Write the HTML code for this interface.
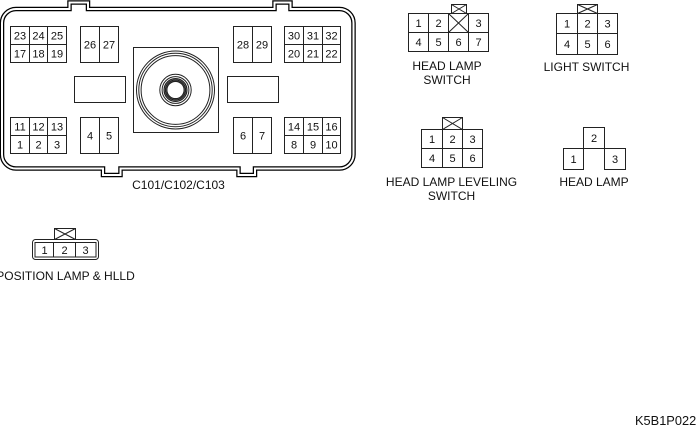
<!DOCTYPE html>
<html><head><meta charset="utf-8"><style>
html,body{margin:0;padding:0;background:#fff;}
svg{display:block;}
text{font-family:"Liberation Sans",Arial,sans-serif;fill:#111;}
.d{font-size:11px;text-anchor:middle;}
.l{font-size:12px;text-anchor:middle;}
</style></head><body>
<svg width="700" height="427" viewBox="0 0 700 427" xmlns="http://www.w3.org/2000/svg">
<g fill="none" stroke-linejoin="miter">
<path d="M16,9 H69.5 V2.5 H88 V9 H274.5 V2.5 H290.5 V9 H339.5 A14 14 0 0 1 353.5 23 V154.5 A14 14 0 0 1 339.5 168.5 H255 V175 H238.5 V168.5 H120.5 V175 H103 V168.5 H16 A14 14 0 0 1 2 154.5 V23 A14 14 0 0 1 16 9 Z" stroke="#000" stroke-width="4.5"/>
<path d="M16,9 H69.5 V2.5 H88 V9 H274.5 V2.5 H290.5 V9 H339.5 A14 14 0 0 1 353.5 23 V154.5 A14 14 0 0 1 339.5 168.5 H255 V175 H238.5 V168.5 H120.5 V175 H103 V168.5 H16 A14 14 0 0 1 2 154.5 V23 A14 14 0 0 1 16 9 Z" stroke="#fff" stroke-width="2"/>
</g>
<g fill="none" stroke="#222" stroke-width="1">
<rect x="10.5" y="26.5" width="56" height="36"/>
<path d="M29.5 26.5V62.5M47.5 26.5V62.5M10.5 44.5H66.5"/>
<rect x="80.5" y="26.5" width="38" height="36"/>
<path d="M99.5 26.5V62.5"/>
<rect x="74.5" y="76.5" width="51" height="26"/>
<rect x="10.5" y="117.5" width="56" height="36"/>
<path d="M29.5 117.5V153.5M47.5 117.5V153.5M10.5 135.5H66.5"/>
<rect x="80.5" y="117.5" width="38" height="36"/>
<path d="M99.5 117.5V153.5"/>
<rect x="233.5" y="26.5" width="38" height="36"/>
<path d="M252.5 26.5V62.5"/>
<rect x="284.5" y="26.5" width="56" height="36"/>
<path d="M303.5 26.5V62.5M322.5 26.5V62.5M284.5 44.5H340.5"/>
<rect x="227.5" y="76.5" width="51" height="26"/>
<rect x="233.5" y="117.5" width="38" height="36"/>
<path d="M252.5 117.5V153.5"/>
<rect x="284.5" y="117.5" width="56" height="36"/>
<path d="M303.5 117.5V153.5M322.5 117.5V153.5M284.5 135.5H340.5"/>
<rect x="133.5" y="47.5" width="85" height="85"/>
<circle cx="175.5" cy="90" r="39"/>
<circle cx="175.5" cy="90" r="36.7"/>
<circle cx="175.5" cy="90" r="34.4"/>
<circle cx="175.5" cy="90" r="15.7"/>
<circle cx="175.5" cy="90" r="13.4"/>
<circle cx="175.5" cy="90" r="11.4" stroke-width="1.3"/>
<circle cx="175.5" cy="90" r="10" stroke-width="1.3"/>
<circle cx="175.5" cy="90" r="8.7" stroke-width="1.3"/>
<rect x="408.5" y="13.5" width="80" height="38"/>
<path d="M428.5 13.5V51.5M448.5 13.5V51.5M468.5 13.5V51.5M408.5 32.5H488.5"/>
<path d="M448.5 13.5L468.5 32.5M468.5 13.5L448.5 32.5"/>
<rect x="451.5" y="4.5" width="15" height="9"/>
<path d="M451.5 4.5L466.5 13.5M466.5 4.5L451.5 13.5"/>
<rect x="556.5" y="13.5" width="61" height="41"/>
<path d="M577.5 13.5V54.5M597.5 13.5V54.5M556.5 33.5H617.5"/>
<rect x="577.5" y="4.5" width="20" height="9"/>
<path d="M577.5 4.5L597.5 13.5M597.5 4.5L577.5 13.5"/>
<rect x="421.5" y="129.5" width="61" height="38"/>
<path d="M442.5 129.5V167.5M462.5 129.5V167.5M421.5 148.5H482.5"/>
<rect x="442.5" y="117.5" width="20" height="12"/>
<path d="M442.5 117.5L462.5 129.5M462.5 117.5L442.5 129.5"/>
<rect x="583.5" y="127.5" width="21" height="21"/>
<rect x="563.5" y="148.5" width="20" height="21"/>
<rect x="604.5" y="148.5" width="21" height="21"/>
<rect x="32.5" y="239.5" width="66" height="20" rx="3"/>
<rect x="35" y="242.5" width="61" height="14.5"/>
<path d="M53.5 242.5V257M75.5 242.5V257"/>
<rect x="54.5" y="228.5" width="21" height="11"/>
<path d="M54.5 228.5L75.5 239.5M75.5 228.5L54.5 239.5"/>
</g>
<text class="d" x="20" y="39.5">23</text><text class="d" x="38.5" y="39.5">24</text><text class="d" x="57" y="39.5">25</text>
<text class="d" x="20" y="57.5">17</text><text class="d" x="38.5" y="57.5">18</text><text class="d" x="57" y="57.5">19</text>
<text class="d" x="90" y="48.5">26</text><text class="d" x="109" y="48.5">27</text>
<text class="d" x="20" y="130.5">11</text><text class="d" x="38.5" y="130.5">12</text><text class="d" x="57" y="130.5">13</text>
<text class="d" x="20" y="148.5">1</text><text class="d" x="38.5" y="148.5">2</text><text class="d" x="57" y="148.5">3</text>
<text class="d" x="90" y="139.5">4</text><text class="d" x="109" y="139.5">5</text>
<text class="d" x="243" y="48.5">28</text><text class="d" x="262" y="48.5">29</text>
<text class="d" x="294" y="39.5">30</text><text class="d" x="313" y="39.5">31</text><text class="d" x="331.5" y="39.5">32</text>
<text class="d" x="294" y="57.5">20</text><text class="d" x="313" y="57.5">21</text><text class="d" x="331.5" y="57.5">22</text>
<text class="d" x="243" y="139.5">6</text><text class="d" x="262" y="139.5">7</text>
<text class="d" x="294" y="130.5">14</text><text class="d" x="313" y="130.5">15</text><text class="d" x="331.5" y="130.5">16</text>
<text class="d" x="294" y="148.5">8</text><text class="d" x="313" y="148.5">9</text><text class="d" x="331.5" y="148.5">10</text>
<text class="l" x="178.5" y="189">C101/C102/C103</text>
<text class="d" x="418.5" y="27">1</text><text class="d" x="438.5" y="27">2</text><text class="d" x="478.5" y="27">3</text>
<text class="d" x="418.5" y="46">4</text><text class="d" x="438.5" y="46">5</text><text class="d" x="458.5" y="46">6</text><text class="d" x="478.5" y="46">7</text>
<text class="l" x="447" y="70">HEAD LAMP</text>
<text class="l" x="447" y="84">SWITCH</text>
<text class="d" x="567" y="27.5">1</text><text class="d" x="587.5" y="27.5">2</text><text class="d" x="607.5" y="27.5">3</text>
<text class="d" x="567" y="48">4</text><text class="d" x="587.5" y="48">5</text><text class="d" x="607.5" y="48">6</text>
<text class="l" x="586.5" y="71">LIGHT SWITCH</text>
<text class="d" x="432" y="143">1</text><text class="d" x="452.5" y="143">2</text><text class="d" x="472.5" y="143">3</text>
<text class="d" x="432" y="162">4</text><text class="d" x="452.5" y="162">5</text><text class="d" x="472.5" y="162">6</text>
<text class="l" x="451.5" y="186">HEAD LAMP LEVELING</text>
<text class="l" x="451.5" y="200">SWITCH</text>
<text class="d" x="594" y="142">2</text>
<text class="d" x="573.5" y="163">1</text>
<text class="d" x="615" y="163">3</text>
<text class="l" x="594" y="186">HEAD LAMP</text>
<text class="d" x="44.5" y="254">1</text><text class="d" x="64.5" y="254">2</text><text class="d" x="85.5" y="254">3</text>
<text class="l" x="65.5" y="280">POSITION LAMP &amp; HLLD</text>
<text x="635" y="425" style="font-size:12.8px;">K5B1P022</text>
</svg>
</body></html>
